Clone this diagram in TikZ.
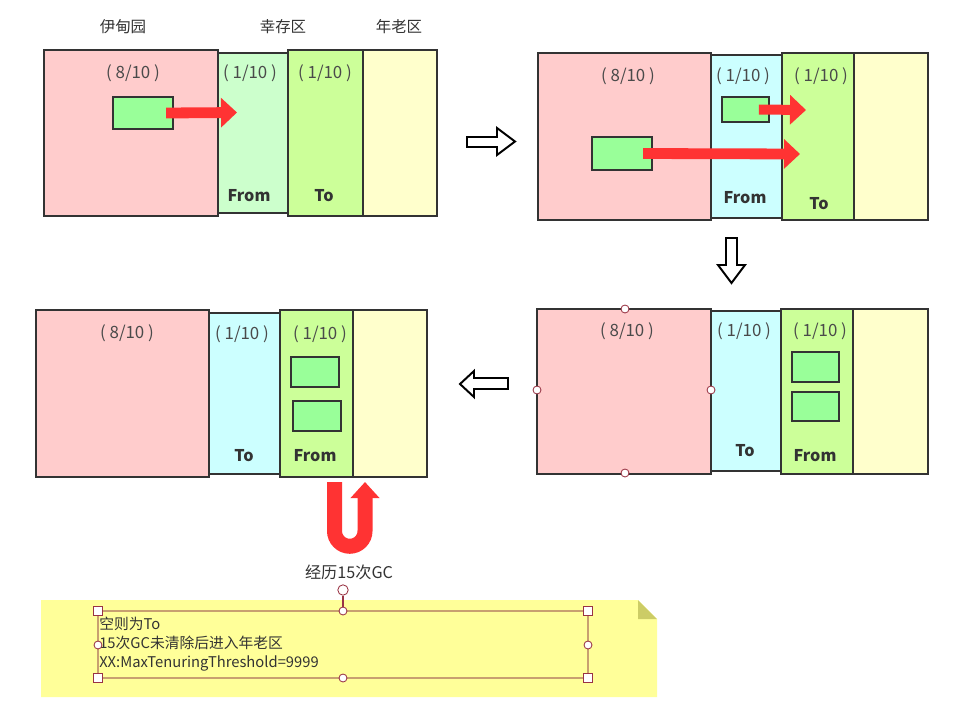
\documentclass[tikz,border=0pt]{standalone}
\usepackage{fontspec}
\setmainfont{Noto Sans CJK SC}
\usetikzlibrary{arrows.meta,positioning}

\definecolor{edencol}{HTML}{FFCCCC}
\definecolor{fromcol}{HTML}{CCFFCC}
\definecolor{tocol}{HTML}{CCFF99}
\definecolor{survcol}{HTML}{CCFFFF}
\definecolor{oldcol}{HTML}{FFFFCC}
\definecolor{objcol}{HTML}{99FF99}
\definecolor{movecol}{HTML}{FF3333}
\definecolor{edgecol}{HTML}{333333}
\definecolor{notecol}{HTML}{FFFF99}
\definecolor{foldcol}{HTML}{CCCC66}
\definecolor{selcol}{HTML}{C8A070}
\definecolor{handlecol}{HTML}{993344}
\definecolor{txtcol}{HTML}{4A4A4A}

\tikzset{
  area/.style={draw=edgecol,line width=2pt},
  ratio/.style={text=txtcol,font=\fontsize{12}{14}\selectfont},
  tag/.style={text=edgecol,font=\fontsize{11.5}{13}\selectfont\bfseries},
  head/.style={text=edgecol,font=\fontsize{11}{13}\selectfont},
  obj/.style={draw=edgecol,fill=objcol,line width=1.6pt,inner sep=0pt},
  move/.style={draw=movecol,line width=0.27cm,-{Triangle[length=0.4cm,width=0.72cm]}},
  hollow/.style={draw=black,fill=white,line width=1.4pt,line join=miter},
  dot/.style={circle,draw=handlecol,fill=white,line width=0.6pt,minimum size=0.2cm,inner sep=0pt},
  grip/.style={draw=handlecol,fill=white,line width=0.6pt,minimum size=0.21cm,inner sep=0pt},
}

\begin{document}
\begin{tikzpicture}[x=0.025cm,y=-0.025cm]
  \useasboundingbox (0,0) rectangle (959,719);
  % Headings
  \node[head] (hEden) at (123,27) {伊甸园};
  \node[head] (hSurv) at (283,27) {幸存区};
  \node[head] (hOld) at (399,27) {年老区};

  % Panel 1: first minor GC, eden -> from
  \draw[area,fill=edencol] (44,50) rectangle (218,216);
  \draw[area,fill=tocol] (288,50) rectangle (363,216);
  \draw[area,fill=oldcol] (363,50) rectangle (437,216);
  \draw[area,fill=fromcol] (218,53) rectangle (288,213);
  \node[ratio] (r1a) at (133,73) {(\ 8/10\ )};
  \node[ratio] (r1b) at (250,73) {(\ 1/10\ )};
  \node[ratio] (r1c) at (325,73) {(\ 1/10\ )};
  \node[tag] (t1a) at (249,196) {From};
  \node[tag] (t1b) at (324,196) {To};
  \node[obj,minimum width=1.5cm,minimum height=0.8cm] (e1) at (143,113) {};
  \coordinate (p1) at (237,112.5);
  \draw[move] ([xshift=-0.2cm]e1.east) -- (p1);

  % Panel 2: eden and from -> to
  \draw[area,fill=edencol] (538,53) rectangle (711,220);
  \draw[area,fill=tocol] (782,53) rectangle (854,220);
  \draw[area,fill=oldcol] (854,53) rectangle (928,220);
  \draw[area,fill=survcol] (711,55) rectangle (782,218);
  \node[ratio] (r2a) at (628,76) {(\ 8/10\ )};
  \node[ratio] (r2b) at (743,76) {(\ 1/10\ )};
  \node[ratio] (r2c) at (821,76) {(\ 1/10\ )};
  \node[tag] (t2a) at (745,198) {From};
  \node[tag] (t2b) at (819,204) {To};
  \node[obj,minimum width=1.175cm,minimum height=0.625cm] (s2) at (745.5,109.5) {};
  \node[obj,minimum width=1.5cm,minimum height=0.825cm] (e2) at (622,153.5) {};
  \coordinate (p2a) at (806,110);
  \coordinate (p2b) at (800,154);
  \draw[move,line width=0.25cm] ([xshift=-0.28cm]s2.east) -- (p2a);
  \draw[move] ([xshift=-0.25cm]e2.east) -- (p2b);

  % Panel 3: from and to swap
  \draw[area,fill=edencol] (537,309) rectangle (711,474);
  \draw[area,fill=tocol] (781,309) rectangle (853,474);
  \draw[area,fill=oldcol] (853,309) rectangle (928,474);
  \draw[area,fill=survcol] (711,311) rectangle (781,471);
  \node[ratio] (r3a) at (627,331) {(\ 8/10\ )};
  \node[ratio] (r3b) at (744,331) {(\ 1/10\ )};
  \node[ratio] (r3c) at (820,331) {(\ 1/10\ )};
  \node[tag] (t3a) at (745,451) {To};
  \node[tag] (t3b) at (815,456) {From};
  \node[obj,minimum width=1.175cm,minimum height=0.75cm] (s3a) at (815.5,367) {};
  \node[obj,minimum width=1.175cm,minimum height=0.73cm] (s3b) at (815.5,406.5) {};
  % selection handles on eden
  \foreach \hx/\hy in {625/309,537/390,711/390,625/473}
    \node[dot] at (\hx,\hy) {};

  % Panel 4: survivors kept in from
  \draw[area,fill=edencol] (36,310) rectangle (209,477);
  \draw[area,fill=tocol] (280,310) rectangle (353,477);
  \draw[area,fill=oldcol] (353,310) rectangle (427,477);
  \draw[area,fill=survcol] (209,313) rectangle (280,474);
  \node[ratio] (r4a) at (127,333) {(\ 8/10\ )};
  \node[ratio] (r4b) at (242,334) {(\ 1/10\ )};
  \node[ratio] (r4c) at (320,334) {(\ 1/10\ )};
  \node[tag] (t4a) at (244,456) {To};
  \node[tag] (t4b) at (315,456) {From};
  \node[obj,minimum width=1.2cm,minimum height=0.75cm] (s4a) at (315,372) {};
  \node[obj,minimum width=1.2cm,minimum height=0.75cm] (s4b) at (317,416) {};

  % Hollow step arrows between panels
  \draw[hollow] (467,137) -- (497,137) -- (497,128) -- (515,141.5) -- (497,155) -- (497,147) -- (467,147) -- cycle;
  \draw[hollow] (726,238) -- (737,238) -- (737,265) -- (745,265) -- (731.5,283) -- (718,265) -- (726,265) -- cycle;
  \draw[hollow] (460,384) -- (474,371) -- (474,378) -- (508,378) -- (508,389) -- (474,389) -- (474,397) -- cycle;

  % U turn into old generation
  \coordinate (u0) at (334.5,482);
  \coordinate (u1) at (365,482);
  \draw[movecol,line width=0.375cm,-{Triangle[length=0.4cm,width=0.7cm]}] (u0) -- (334.5,531) arc[start angle=180,end angle=0,radius=15.25] -- (u1);
  \node[text=edgecol,font=\fontsize{11.5}{13}\selectfont] (gc) at (349,572) {经历15次GC};

  % Note
  \fill[notecol] (41,600) -- (638,600) -- (657,619) -- (657,697) -- (41,697) -- cycle;
  \fill[foldcol] (638,600) -- (657,619) -- (638,619) -- cycle;
  \draw[selcol,line width=0.8pt] (98,611) rectangle (588,678);
  \node[text=edgecol,font=\fontsize{10.5}{13.5}\selectfont,align=left,anchor=north west,inner sep=0pt] (memo) at (99,617)
    {空则为To\\15次GC未清除后进入年老区\\XX:MaxTenuringThreshold=9999};
  \node[dot,minimum size=0.26cm] (rot) at (343,590) {};
  \node[dot] (nTop) at (343,611) {};
  \draw[handlecol,line width=0.8pt] (rot) -- (nTop);
  \foreach \hx/\hy in {98/645,588/645,343/678}
    \node[dot] at (\hx,\hy) {};
  \foreach \hx/\hy in {98/611,588/611,98/678,588/678}
    \node[grip] at (\hx,\hy) {};
\end{tikzpicture}
\end{document}
